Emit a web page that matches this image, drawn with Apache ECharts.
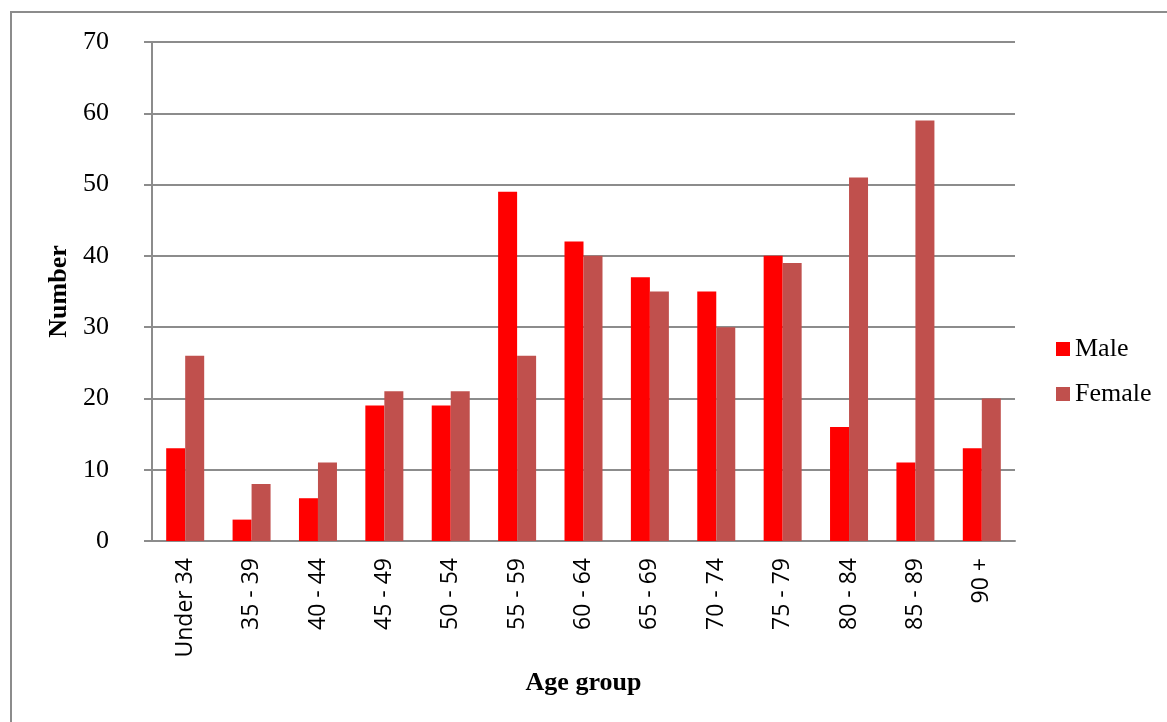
<!DOCTYPE html>
<html>
<head>
<meta charset="utf-8">
<script src="https://cdn.jsdelivr.net/npm/echarts@6/dist/echarts.min.js"></script>
<style>
  html, body { margin: 0; padding: 0; background: #fff; }
  #chart { width: 1167px; height: 722px; }
</style>
</head>
<body>
<div id="chart"></div>
<script>
// Age groups and counts by sex
const ageGroups = ['Under 34', '35 - 39', '40 - 44', '45 - 49', '50 - 54', '55 - 59', '60 - 64',
                   '65 - 69', '70 - 74', '75 - 79', '80 - 84', '85 - 89', '90 +'];
const maleCounts   = [13, 3, 6, 19, 19, 49, 42, 37, 35, 40, 16, 11, 13];
const femaleCounts = [26, 8, 11, 21, 21, 26, 40, 35, 30, 39, 51, 59, 20];
const yTicks = { min: 0, max: 70, interval: 10 };

const serif = '"Liberation Serif", "Times New Roman", serif';
const sans = '"Open Sans", "Liberation Sans", sans-serif';
const gridGrey = '#8c8c8c';

const chart = echarts.init(document.getElementById('chart'));
chart.setOption({
  animation: false,
  backgroundColor: '#fff',
  graphic: [{
    type: 'rect',
    shape: { x: 11, y: 12, width: 1200, height: 800 },
    style: { fill: 'none', stroke: '#8c8c8c', lineWidth: 2 },
    silent: true
  }],
  legend: {
    orient: 'vertical',
    left: 1056,
    top: 336,
    padding: 0,
    itemWidth: 14,
    itemHeight: 14,
    itemGap: 19,
    icon: 'rect',
    textStyle: { fontFamily: serif, fontSize: 26, color: '#000' },
    data: ['Male', 'Female']
  },
  grid: { left: 152, right: 152, top: 42, bottom: 181, containLabel: false },
  xAxis: {
    type: 'category',
    data: ageGroups,
    name: 'Age group',
    nameLocation: 'middle',
    nameGap: 129,
    nameTextStyle: { fontFamily: serif, fontSize: 26, fontWeight: 'bold', color: '#000' },
    axisLine: { lineStyle: { color: gridGrey, width: 2 } },
    axisTick: { alignWithLabel: false, length: 8, lineStyle: { color: gridGrey, width: 2 } },
    axisLabel: { rotate: 90, margin: 17, fontFamily: sans, fontSize: 23, color: '#000' }
  },
  yAxis: {
    type: 'value',
    min: yTicks.min,
    max: yTicks.max,
    interval: yTicks.interval,
    name: 'Number',
    nameLocation: 'middle',
    nameGap: 77,
    nameRotate: 90,
    nameTextStyle: { fontFamily: serif, fontSize: 26, fontWeight: 'bold', color: '#000' },
    axisLine: { show: true, lineStyle: { color: gridGrey, width: 2 } },
    axisTick: { show: true, length: 8, lineStyle: { color: gridGrey, width: 2 } },
    axisLabel: { margin: 43, fontFamily: serif, fontSize: 26, color: '#000' },
    splitLine: { lineStyle: { color: gridGrey, width: 2 } }
  },
  series: [
    {
      name: 'Male', type: 'bar', data: maleCounts,
      barWidth: 19, barGap: '0%',
      itemStyle: { color: '#ff0000' }
    },
    {
      name: 'Female', type: 'bar', data: femaleCounts,
      barWidth: 19,
      itemStyle: { color: '#c0504d' }
    }
  ]
});
</script>
</body>
</html>
